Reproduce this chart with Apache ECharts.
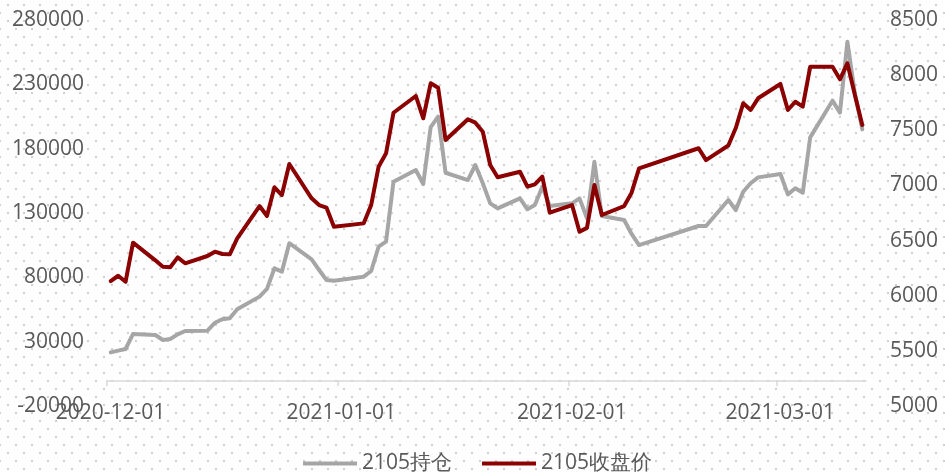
<!DOCTYPE html>
<html>
<head>
<meta charset="utf-8">
<script src="https://cdn.jsdelivr.net/npm/echarts@6/dist/echarts.min.js"></script>
<style>html,body{margin:0;padding:0;background:#fff}#c{width:945px;height:474px}</style>
</head>
<body>
<div id="c"></div>
<script>
// ---- data ----
const dates = [
 '2020-12-01','2020-12-02','2020-12-03','2020-12-04','2020-12-07','2020-12-08','2020-12-09','2020-12-10','2020-12-11',
 '2020-12-14','2020-12-15','2020-12-16','2020-12-17','2020-12-18','2020-12-21','2020-12-22','2020-12-23','2020-12-24','2020-12-25',
 '2020-12-28','2020-12-29','2020-12-30','2020-12-31',
 '2021-01-04','2021-01-05','2021-01-06','2021-01-07','2021-01-08','2021-01-11','2021-01-12','2021-01-13','2021-01-14','2021-01-15',
 '2021-01-18','2021-01-19','2021-01-20','2021-01-21','2021-01-22','2021-01-25','2021-01-26','2021-01-27','2021-01-28','2021-01-29',
 '2021-02-01','2021-02-02','2021-02-03','2021-02-04','2021-02-05','2021-02-08','2021-02-09','2021-02-10',
 '2021-02-18','2021-02-19','2021-02-22','2021-02-23','2021-02-24','2021-02-25','2021-02-26',
 '2021-03-01','2021-03-02','2021-03-03','2021-03-04','2021-03-05','2021-03-08','2021-03-09','2021-03-10','2021-03-11','2021-03-12'
];
const openInterest = [
 21700,23000,24300,36000,35200,31300,32100,35700,38300,
 38500,44700,47400,48200,55200,65000,71000,87000,84400,106500,
 94000,85700,77900,77400,
 80500,84900,103800,107700,154300,163400,152500,196800,204900,161300,
 155600,167300,153100,137500,133600,141400,132900,136200,150400,135400,
 137500,141400,125900,169900,127700,124600,113700,105100,
 119900,119900,140100,132300,146500,153100,157700,
 160300,144500,149200,145800,188800,217300,208000,263100,223000,195000
];
const closePrice = [
 6133,6181,6127,6481,6321,6263,6258,6348,6294,
 6360,6399,6378,6375,6520,6813,6723,6983,6913,7194,
 6883,6822,6798,6626,
 6656,6822,7170,7291,7659,7811,7609,7926,7885,7412,
 7600,7569,7487,7185,7074,7124,6989,7010,7079,6753,
 6822,6580,6615,7004,6732,6813,6934,7155,
 7337,7230,7362,7520,7745,7684,7790,
 7920,7684,7759,7714,8076,8076,7962,8107,7822,7548
];
const tickLabels = ['2020-12-01','2021-01-01','2021-02-01','2021-03-01'];
const seriesNames = ['2105持仓','2105收盘价'];

// ---- helpers ----
function toTs(s){const p=s.split('-').map(Number);return new Date(p[0],p[1]-1,p[2]).getTime();}
const HALF_DAY = 12*3600*1000;
function pad(n){return (n<10?'0':'')+n;}
function fmt(v){const d=new Date(v);return d.getFullYear()+'-'+pad(d.getMonth()+1)+'-'+pad(d.getDate());}
const tickTs = tickLabels.map(toTs);

// dotted background pattern
const tile = document.createElement('canvas');
tile.width = 16; tile.height = 16;
const g = tile.getContext('2d');
g.fillStyle = '#fff'; g.fillRect(0,0,16,16);
g.fillStyle = '#cfcfcf';
g.fillRect(7,4,2,2);
g.fillRect(15,12,1,2);
g.fillRect(0,12,1,2);

const FONT = 'Open Sans';
const TXT = '#595959';

const chart = echarts.init(document.getElementById('c'), null, {renderer:'canvas'});
chart.setOption({
  backgroundColor: {image: tile, repeat: 'repeat'},
  animation: false,
  grid: {left:107, right:79, top:20, bottom:68, containLabel:false, outerBoundsMode:'none'},
  legend: {
    left: 298, top: 448, itemGap: 30, itemWidth: 54, itemHeight: 4, icon: 'rect',
    textStyle: {fontFamily: FONT, fontSize: 21, color: TXT},
    data: seriesNames
  },
  xAxis: {
    type: 'value', scale: true,
    min: toTs('2020-12-01'), max: toTs('2021-03-13'),
    axisLine: {show:true, onZero:true, onZeroAxisIndex:0, lineStyle:{color:'#d9d9d9', width:1.5}},
    axisTick: {show:true, length:6, customValues: tickTs, lineStyle:{color:'#d9d9d9', width:1.5}},
    axisLabel: {customValues: tickTs, formatter: v => fmt(v), margin: -3, padding:[0,0,0,7],
      fontFamily: FONT, fontSize: 21, color: TXT},
    splitLine: {show:false}, minorTick:{show:false}
  },
  yAxis: [
    {type:'value', min:-20000, max:280000, interval:50000, position:'left',
     axisLine:{show:false}, axisTick:{show:false}, splitLine:{show:false},
     axisLabel:{margin:23, fontFamily:FONT, fontSize:21, color:TXT, formatter: v => String(v)}},
    {type:'value', min:5000, max:8500, interval:500, position:'right',
     axisLine:{show:false}, axisTick:{show:false}, splitLine:{show:false},
     axisLabel:{margin:24, fontFamily:FONT, fontSize:21, color:TXT, formatter: v => String(v)}}
  ],
  series: [
    {name: seriesNames[0], type:'line', yAxisIndex:0, showSymbol:false, symbol:'none',
     color:'#a6a6a6', lineStyle:{width:4, color:'#a6a6a6', join:'round', cap:'round'},
     data: dates.map((d,i)=>[toTs(d)+HALF_DAY, openInterest[i]])},
    {name: seriesNames[1], type:'line', yAxisIndex:1, showSymbol:false, symbol:'none',
     color:'#8b0000', lineStyle:{width:4, color:'#8b0000', join:'round', cap:'round'},
     data: dates.map((d,i)=>[toTs(d)+HALF_DAY, closePrice[i]])}
  ]
});
</script>
</body>
</html>
